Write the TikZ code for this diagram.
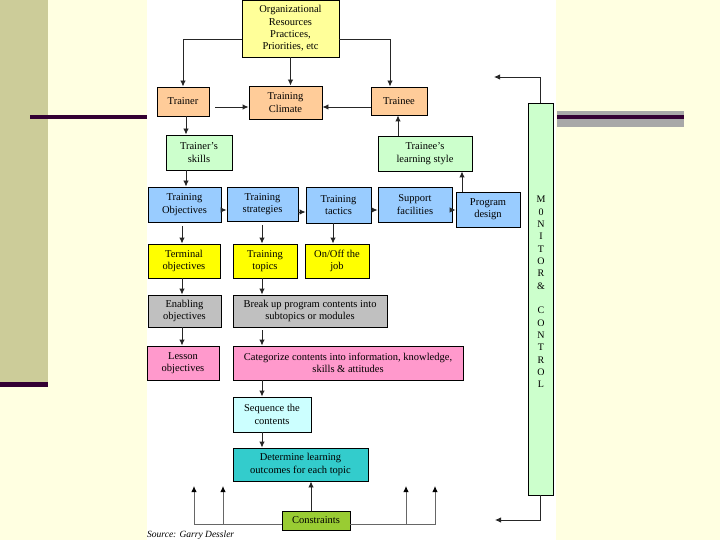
\documentclass[tikz,border=0pt]{standalone}
\usepackage{fontspec}
\setmainfont{Liberation Serif}
\usetikzlibrary{arrows.meta,calc}
\definecolor{bgcream}{HTML}{FFFFE1}
\definecolor{olive}{HTML}{CCCC99}
\definecolor{darkplum}{HTML}{330033}
\definecolor{band}{HTML}{A8A8A8}
\definecolor{cpeach}{HTML}{FFCC99}
\definecolor{clyel}{HTML}{FFFF99}
\definecolor{cgreen}{HTML}{CCFFCC}
\definecolor{cblue}{HTML}{99CCFF}
\definecolor{cyel}{HTML}{FFFF00}
\definecolor{cgray}{HTML}{C0C0C0}
\definecolor{cpink}{HTML}{FF99CC}
\definecolor{ccyan}{HTML}{CCFFFF}
\definecolor{cteal}{HTML}{33CCCC}
\definecolor{ccons}{HTML}{99CC33}
\begin{document}
\begin{tikzpicture}[x=1pt,y=-1pt,
  box/.style={draw=black,line width=0.9pt,inner sep=0pt,align=center,
    font=\fontsize{10.5}{12.3}\selectfont},
  arr/.style={draw=black!85,line width=0.9pt,-{Latex[length=6pt,width=5.5pt]}},
  garr/.style={draw=black!60,line width=1pt,-{Latex[length=6pt,width=5.5pt,color=black]}},
]
\useasboundingbox (0,0) rectangle (720,540);
% background and decoration
\fill[bgcream] (0,0) rectangle (720,540);
\fill[olive] (0,0) rectangle (48,382);
\fill[darkplum] (0,382) rectangle (48,387);
\fill[darkplum] (30,115) rectangle (147,119);
\fill[white] (147,0) rectangle (556,540);
\fill[band] (557,111) rectangle (684,127);
\fill[darkplum] (557,115) rectangle (684,119);

% nodes
\node[box,fill=clyel,minimum width=97pt,minimum height=57pt] (org) at (290.5,28.5) {Organizational\\Resources\\Practices,\\Priorities, etc};
\node[box,fill=cpeach,minimum width=52pt,minimum height=29pt] (trainer) at (183,101.5) {Trainer};
\node[box,fill=cpeach,minimum width=73pt,minimum height=33pt] (climate) at (285.5,102.5) {Training\\Climate};
\node[box,fill=cpeach,minimum width=56pt,minimum height=28pt] (trainee) at (399,101) {Trainee};
\node[box,fill=cgreen,minimum width=66pt,minimum height=35pt] (tskills) at (199,152.5) {Trainer's\\skills};
\node[box,fill=cgreen,minimum width=94pt,minimum height=35pt] (lstyle) at (425,153.5) {Trainee's\\learning style};

\node[box,fill=cblue,minimum width=73pt,minimum height=35pt] (tobj) at (184.5,204.5) {Training\\Objectives};
\node[box,fill=cblue,minimum width=71pt,minimum height=34pt] (tstrat) at (262.5,204) {Training\\strategies};
\node[box,fill=cblue,minimum width=65pt,minimum height=36pt] (ttact) at (338.5,205) {Training\\tactics};
\node[box,fill=cblue,minimum width=74pt,minimum height=35pt] (supp) at (415,204.5) {Support\\facilities};
\node[box,fill=cblue,minimum width=64pt,minimum height=35pt] (prog) at (488,209.5) {Program\\design};

\node[box,fill=cyel,minimum width=72pt,minimum height=34pt] (term) at (184,261) {Terminal\\objectives};
\node[box,fill=cyel,minimum width=64pt,minimum height=34pt] (ttop) at (265,261) {Training\\topics};
\node[box,fill=cyel,minimum width=64pt,minimum height=34pt] (onoff) at (337,261) {On/Off the\\job};

\node[box,fill=cgray,minimum width=73pt,minimum height=32pt] (enab) at (184.5,311) {Enabling\\objectives};
\node[box,fill=cgray,minimum width=154pt,minimum height=32pt] (brk) at (310,311) {Break up program contents into\\subtopics or modules};

\node[box,fill=cpink,minimum width=72pt,minimum height=34pt] (lesson) at (183,363) {Lesson\\objectives};
\node[box,fill=cpink,minimum width=230pt,minimum height=34pt] (categ) at (348,363) {Categorize contents into information, knowledge,\\skills \& attitudes};

\node[box,fill=ccyan,minimum width=78pt,minimum height=35pt] (seq) at (272,414.5) {Sequence the\\contents};
\node[box,fill=cteal,minimum width=135pt,minimum height=33pt] (det) at (300.5,464.5) {Determine learning\\outcomes for each topic};
\node[box,fill=ccons,minimum width=68pt,minimum height=19pt] (cons) at (316,520.5) {Constraints};

\node[box,fill=cgreen,minimum width=25pt,minimum height=392pt] (mon) at (540.5,299) {};
\node[align=center,font=\fontsize{10}{12.33}\selectfont,inner sep=0pt] (montxt) at (541,292)
  {M\\0\\N\\I\\T\\O\\R\\\&\\[12.33pt]C\\O\\N\\T\\R\\O\\L};

\node[anchor=west,inner sep=0pt,font=\fontsize{9.5}{12}\selectfont\itshape] (src) at (147,535) {Source: Garry Dessler};

% helper columns and free ends
\coordinate (colT) at (186,0);
\coordinate (colA) at (182,0);
\coordinate (colB) at (262,0);
\coordinate (mtop) at (494,77);
\coordinate (mbot) at (495,520);
\coordinate (c1) at (194,486);
\coordinate (c2) at (223,486);
\coordinate (c3) at (406,486);
\coordinate (c4) at (435,486);

% connectors
\draw[arr] ([yshift=-10.5pt]org.west) -| (trainer.north);
\draw[arr] ([yshift=-10.5pt]org.east) -| ([xshift=-9pt]trainee.north);
\draw[arr] (org.south) -- (org.south |- climate.north);
\draw[arr,shorten <=6pt] ([yshift=-5.5pt]trainer.east) -- ([yshift=-5.5pt]trainer.east -| climate.west);
\draw[arr] ([yshift=-6pt]trainee.west) -- ([yshift=-6pt]trainee.west -| climate.east);
\draw[arr] (colT |- trainer.south) -- (colT |- tskills.north);
\draw[arr] (colT |- tskills.south) -- (colT |- tobj.north);
\draw[arr] ([xshift=-1pt]trainee.south |- lstyle.north) -- ([xshift=-1pt]trainee.south);
\draw[arr] ([xshift=-26pt]prog.north) -- ([xshift=-26pt]prog.north |- lstyle.south);

\draw[arr] ([yshift=-5.5pt]tobj.east) -- ([yshift=-5.5pt]tobj.east -| tstrat.west);
\draw[arr] ([yshift=-8pt]tstrat.east) -- ([yshift=-8pt]tstrat.east -| ttact.west);
\draw[arr] ([yshift=-5pt]ttact.east) -- ([yshift=-5pt]ttact.east -| supp.west);
\draw[arr] ([yshift=-5.5pt]supp.east) -- ([yshift=-5.5pt]supp.east -| prog.west);

\draw[arr,shorten <=4pt] (colA |- tobj.south) -- (colA |- term.north);
\draw[arr,shorten <=4pt] (colB |- tstrat.south) -- (colB |- ttop.north);
\draw[arr] ([xshift=-5.5pt]ttact.south) -- ([xshift=-5.5pt]ttact.south |- onoff.north);
\draw[arr] (colA |- term.south) -- (colA |- enab.north);
\draw[arr] (colB |- ttop.south) -- (colB |- brk.north);
\draw[arr] (colA |- enab.south) -- (colA |- lesson.north);
\draw[arr,shorten <=3pt] (colB |- brk.south) -- (colB |- categ.north);
\draw[arr] (colB |- categ.south) -- (colB |- seq.north);
\draw[arr] (colB |- seq.south) -- (colB |- det.north);
\draw[arr] ([xshift=-5pt]cons.north) -- ([xshift=-5pt]cons.north |- det.south);

\draw[garr] ([yshift=-3.5pt]cons.west) -| (c1);
\draw[garr] ([yshift=-3.5pt]cons.west -| c2) -- (c2);
\draw[garr] ([yshift=-3.5pt]cons.east) -| (c4);
\draw[garr] ([yshift=-3.5pt]cons.east -| c3) -- (c3);

\draw[arr] (mon.north) |- (mtop);
\draw[arr] (mon.south) |- (mbot);
\end{tikzpicture}
\end{document}
